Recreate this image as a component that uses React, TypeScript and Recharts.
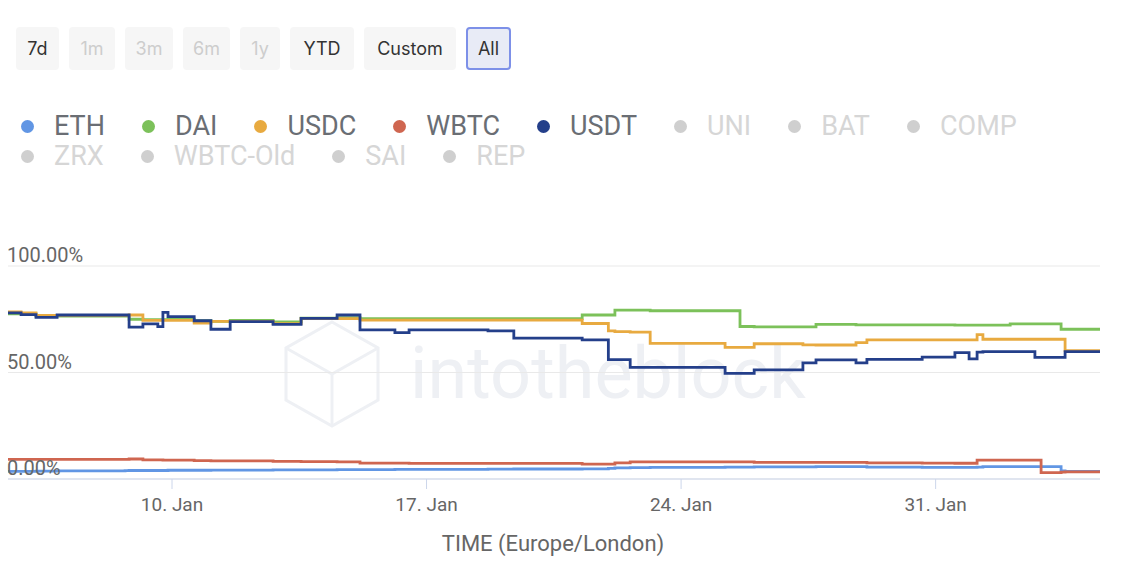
import React from "react";
import { LineChart, Line, XAxis, YAxis, CartesianGrid } from "recharts";

// day of January (fractional)
const days = [
  5.49, 5.85, 6.26, 6.84, 8.71, 8.82, 9.2, 9.61, 9.75, 9.89,
  10.61, 11.07, 11.6, 12.78, 13.55, 14.54, 15.17, 16.13, 16.52, 18.69,
  19.4, 21.28, 22.0, 22.18, 22.6, 23.15, 25.21, 25.62, 26.01, 27.35,
  27.71, 28.81, 29.11, 30.63, 31.53, 31.92, 32.14, 32.3, 33.05, 33.73,
  33.9, 34.45, 34.56, 35.52,
];

const ethValues = [
  3.6, 3.6, 3.7, 3.8, 3.9, 4.0, 4.0, 4.0, 4.0, 4.1,
  4.1, 4.2, 4.2, 4.3, 4.3, 4.4, 4.4, 4.5, 4.5, 4.6,
  4.7, 4.8, 5.0, 5.2, 5.3, 5.5, 5.6, 5.6, 5.7, 5.7,
  5.8, 5.8, 5.6, 5.5, 5.5, 5.5, 5.6, 5.8, 5.8, 5.8,
  5.8, 3.8, 3.6, 3.5,
];
const daiValues = [
  77.5, 77.5, 76.5, 76.5, 76.5, 75.0, 74.8, 74.8, 74.8, 75.0,
  74.3, 74.0, 74.5, 73.8, 75.5, 75.8, 75.3, 75.3, 75.3, 75.3,
  75.3, 77.0, 77.0, 79.3, 79.3, 79.0, 79.0, 71.6, 71.4, 71.4,
  72.6, 72.4, 72.4, 72.4, 72.2, 72.2, 72.2, 72.2, 72.8, 72.8,
  72.8, 70.3, 70.3, 70.2,
];
const usdcValues = [
  78.5, 78.0, 76.8, 76.8, 76.8, 77.0, 74.5, 74.5, 74.5, 74.5,
  73.2, 74.0, 74.0, 72.9, 75.3, 75.3, 74.6, 74.6, 74.6, 74.6,
  74.6, 73.0, 69.5, 69.2, 69.0, 63.7, 61.8, 61.8, 63.5, 63.0,
  62.9, 64.0, 65.3, 65.3, 65.3, 65.3, 67.8, 65.6, 65.6, 65.6,
  65.6, 65.6, 60.3, 60.3,
];
const wbtcValues = [
  9.2, 9.2, 9.2, 9.2, 9.2, 9.4, 9.0, 9.0, 8.9, 8.9,
  8.6, 8.5, 8.5, 8.3, 8.2, 8.0, 7.5, 7.5, 7.3, 7.3,
  7.3, 7.0, 7.0, 7.6, 8.0, 8.0, 8.0, 8.0, 7.8, 7.8,
  7.8, 7.8, 7.6, 7.5, 7.4, 7.4, 8.9, 8.9, 8.9, 8.9,
  3.0, 3.2, 3.3, 3.3,
];
const usdtValues = [
  78.0, 77.2, 75.9, 77.0, 77.0, 71.3, 72.8, 71.5, 78.2, 76.2,
  74.3, 70.3, 73.9, 72.6, 75.4, 77.0, 70.0, 68.7, 70.0, 69.5,
  66.1, 65.3, 56.0, 56.0, 52.4, 52.4, 49.6, 49.6, 51.2, 54.5,
  55.9, 54.5, 56.2, 57.2, 59.3, 56.4, 59.6, 59.8, 59.8, 57.1,
  57.1, 57.1, 59.8, 59.6,
];

const rangeButtons = ["7d", "1m", "3m", "6m", "1y", "YTD", "Custom", "All"];
const disabledButtons = ["1m", "3m", "6m", "1y"];
const buttonWidths = [43, 46, 48, 47, 40, 64, 92, 45];

const legendRow1 = ["ETH", "DAI", "USDC", "WBTC", "USDT", "UNI", "BAT", "COMP"];
const legendRow2 = ["ZRX", "WBTC-Old", "SAI", "REP"];

const xTicks = [10, 17, 24, 31];
const yTicks = [0, 50, 100];

const COLORS: Record<string, string> = {
  ETH: "#6196e4",
  DAI: "#7cc15a",
  USDC: "#e8aa40",
  WBTC: "#cf6650",
  USDT: "#243f8a",
};

const series = [
  { key: "ETH", values: ethValues },
  { key: "DAI", values: daiValues },
  { key: "USDC", values: usdcValues },
  { key: "WBTC", values: wbtcValues },
  { key: "USDT", values: usdtValues },
];

const data = days.map((d, i) => {
  const row: Record<string, number> = { day: d };
  series.forEach((s) => {
    row[s.key] = s.values[i];
  });
  return row;
});

const YTick = (props: any) => {
  const { y, payload } = props;
  return (
    <text x={7} y={y - 11} dy="0.35em" fill="#666" fontSize={20} fontFamily="Roboto">
      {`${payload.value.toFixed(2)}%`}
    </text>
  );
};

const LegendItem = ({ name }: { name: string }) => {
  const active = COLORS[name];
  return (
    <div style={{ display: "flex", alignItems: "center", marginRight: 37 }}>
      <span
        style={{
          width: 13,
          height: 13,
          borderRadius: "50%",
          background: active || "#cfcfcf",
          marginRight: 20,
        }}
      />
      <span style={{ color: active ? "#6a6e74" : "#d6d6d6", fontSize: 27 }}>{name}</span>
    </div>
  );
};

const App = () => {
  return (
    <div
      style={{
        position: "absolute",
        left: 0,
        top: 0,
        width: 1130,
        height: 584,
        background: "#fff",
        fontFamily: "Roboto, sans-serif",
        overflow: "hidden",
      }}
    >
      {/* range buttons */}
      <div style={{ position: "absolute", left: 16, top: 27, display: "flex", gap: 10 }}>
        {rangeButtons.map((b, i) => {
          const isAll = b === "All";
          const disabled = disabledButtons.includes(b);
          return (
            <div
              key={b}
              style={{
                width: buttonWidths[i],
                height: 43,
                boxSizing: "border-box",
                display: "flex",
                alignItems: "center",
                justifyContent: "center",
                background: isAll ? "#e8ebf6" : "#f6f6f6",
                border: isAll ? "2px solid #7d90e8" : "2px solid transparent",
                borderRadius: 4,
                fontFamily: "Inter",
                fontSize: 18,
                color: disabled ? "#cdcdcd" : "#333",
              }}
            >
              {b}
            </div>
          );
        })}
      </div>

      {/* legend */}
      <div style={{ position: "absolute", left: 21, top: 111 }}>
        <div style={{ display: "flex", height: 30, alignItems: "center" }}>
          {legendRow1.map((n) => (
            <LegendItem key={n} name={n} />
          ))}
        </div>
        <div style={{ display: "flex", height: 30, alignItems: "center" }}>
          {legendRow2.map((n) => (
            <LegendItem key={n} name={n} />
          ))}
        </div>
      </div>

      {/* watermark */}
      <svg style={{ position: "absolute", left: 0, top: 0 }} width={1130} height={584}>
        <g stroke="#eef0f4" strokeWidth={3} fill="none">
          <polygon points="332,322 378,348 378,400 332,426 286,400 286,348" />
          <polyline points="286,348 332,374 378,348" />
          <line x1={332} y1={374} x2={332} y2={426} />
        </g>
        <text x={410} y={398} fontSize={72} fill="#eef0f4" fontFamily="Roboto">
          intotheblock
        </text>
      </svg>

      <div style={{ position: "absolute", left: 0, top: 0 }}>
        <LineChart
          width={1130}
          height={584}
          data={data}
          margin={{ top: 266, right: 30, bottom: 75, left: 7 }}
        >
          <CartesianGrid vertical={false} stroke="#e9e9e9" />
          <XAxis
            dataKey="day"
            type="number"
            domain={[5.49, 35.52]}
            allowDataOverflow
            ticks={xTicks}
            tickFormatter={(d: number) => `${d}. Jan`}
            tick={{ fill: "#666", fontSize: 19, fontFamily: "Roboto" }}
            tickSize={10}
            tickMargin={9}
            height={30}
            axisLine={{ stroke: "#ccd6eb" }}
            tickLine={{ stroke: "#ccd6eb" }}
          />
          <YAxis
            domain={[0, 100]}
            ticks={yTicks}
            width={1}
            axisLine={false}
            tickLine={false}
            tick={(p: any) => <YTick {...p} />}
          />
          {series.map((s) => (
            <Line
              key={s.key}
              dataKey={s.key}
              type="stepAfter"
              stroke={COLORS[s.key]}
              strokeWidth={2.8}
              dot={false}
              isAnimationActive={false}
            />
          ))}
        </LineChart>
      </div>

      <div
        style={{
          position: "absolute",
          left: 353,
          width: 400,
          top: 531,
          textAlign: "center",
          fontSize: 22,
          color: "#666",
        }}
      >
        TIME (Europe/London)
      </div>
    </div>
  );
};

export default App;
